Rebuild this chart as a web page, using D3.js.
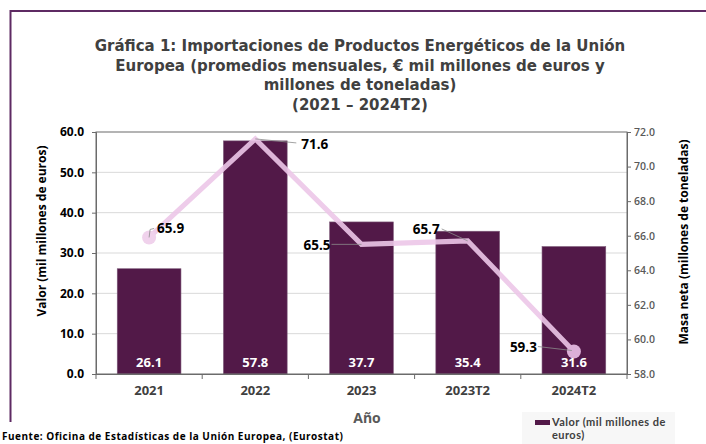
<!DOCTYPE html>
<html>
<head>
<meta charset="utf-8">
<script src="https://cdn.jsdelivr.net/npm/d3@7"></script>
<style>
  body { margin: 0; background: #fff; }
  text { font-family: "Open Sans", sans-serif; }
</style>
</head>
<body>
<script>
var years = ["2021", "2022", "2023", "2023T2", "2024T2"];
var valor = [26.1, 57.8, 37.7, 35.4, 31.6];
var masa = [65.9, 71.6, 65.5, 65.7, 59.3];
var leftTicks = [0, 10, 20, 30, 40, 50, 60];
var rightTicks = [58, 60, 62, 64, 66, 68, 70, 72];

var width = 706, height = 444;
var m = {left: 96, right: 627, top: 132, bottom: 374};

var svg = d3.select("body").append("svg")
    .attr("width", width)
    .attr("height", height);

// outer frame
svg.append("path")
    .attr("d", "M10.5,422 V11 H706")
    .attr("fill", "none")
    .attr("stroke", "#5e2a63")
    .attr("stroke-width", 2);

var title = ["Gráfica 1: Importaciones de Productos Energéticos de la Unión",
  "Europea (promedios mensuales, € mil millones de euros y",
  "millones de toneladas)",
  "(2021 – 2024T2)"];
svg.append("g").selectAll("text")
    .data(title)
  .enter().append("text")
    .attr("x", 360)
    .attr("y", function(d, i) { return 51 + i * 19.5; })
    .attr("text-anchor", "middle")
    .attr("font-size", 15)
    .attr("font-weight", 700)
    .attr("fill", "#404040")
    .style("font-family", "'DejaVu Sans', sans-serif")
    .text(function(d) { return d; });

var x = d3.scaleBand().domain(years).range([m.left, m.right]).paddingInner(0.4).paddingOuter(0.2);
var y = d3.scaleLinear().domain([0, 60]).range([m.bottom, m.top]);
var y2 = d3.scaleLinear().domain([58, 72]).range([m.bottom, m.top]);
var cx = function(d) { return x(d) + x.bandwidth() / 2; };

// gridlines
svg.append("g").selectAll("line")
    .data(leftTicks.slice(1, -1))
  .enter().append("line")
    .attr("x1", m.left).attr("x2", m.right)
    .attr("y1", function(d) { return y(d); })
    .attr("y2", function(d) { return y(d); })
    .attr("stroke", "#d9d9d9");

// bars
svg.append("g").selectAll("rect")
    .data(valor)
  .enter().append("rect")
    .attr("x", function(d, i) { return x(years[i]); })
    .attr("y", function(d) { return y(d); })
    .attr("width", x.bandwidth())
    .attr("height", function(d) { return y(0) - y(d); })
    .attr("fill", "#521948")
    .attr("stroke", "#7d5a79")
    .attr("stroke-width", 0.6);

// plot frame
svg.append("rect")
    .attr("x", m.left).attr("y", m.top)
    .attr("width", m.right - m.left).attr("height", m.bottom - m.top)
    .attr("fill", "none")
    .attr("stroke", "#6b6b6b");

// left axis
var gl = svg.append("g")
    .attr("transform", "translate(" + m.left + ",0)")
    .call(d3.axisLeft(y).tickValues(leftTicks).tickFormat(d3.format(".1f")).tickSize(4).tickPadding(8));
gl.select(".domain").attr("stroke", "#6b6b6b");
gl.selectAll(".tick line").attr("stroke", "#6b6b6b");
gl.selectAll("text").attr("font-size", 12).attr("font-weight", 700).attr("fill", "#000")
    .style("font-family", "'Open Sans', sans-serif");

// right axis
var gr = svg.append("g")
    .attr("transform", "translate(" + m.right + ",0)")
    .call(d3.axisRight(y2).tickValues(rightTicks).tickFormat(d3.format(".1f")).tickSize(4).tickPadding(3));
gr.select(".domain").attr("stroke", "#6b6b6b");
gr.selectAll(".tick line").attr("stroke", "#6b6b6b");
gr.selectAll("text").attr("font-size", 10.5).attr("font-weight", 600).attr("fill", "#595959")
    .style("font-family", "'Open Sans', sans-serif");

// x axis
var gx = svg.append("g")
    .attr("transform", "translate(0," + m.bottom + ")")
    .call(d3.axisBottom(x).tickSize(0).tickPadding(12));
gx.select(".domain").attr("stroke", "#6b6b6b");
gx.selectAll("text").attr("font-size", 13).attr("font-weight", 700).attr("fill", "#404040")
    .style("font-family", "'Open Sans', sans-serif");
svg.append("g").selectAll("line")
    .data(d3.range(years.length + 1))
  .enter().append("line")
    .attr("x1", function(i) { return m.left + i * x.step(); })
    .attr("x2", function(i) { return m.left + i * x.step(); })
    .attr("y1", m.bottom).attr("y2", m.bottom + 5)
    .attr("stroke", "#6b6b6b");

// line series
var line = d3.line()
    .x(function(d, i) { return cx(years[i]); })
    .y(function(d) { return y2(d); });
svg.append("path")
    .datum(masa)
    .attr("d", line)
    .attr("fill", "none")
    .attr("stroke", "#ecc6e8")
    .attr("stroke-opacity", 0.9)
    .attr("stroke-width", 5)
    .attr("stroke-linejoin", "miter");

svg.append("g").selectAll("circle")
    .data([0, masa.length - 1])
  .enter().append("circle")
    .attr("cx", function(i) { return cx(years[i]); })
    .attr("cy", function(i) { return y2(masa[i]); })
    .attr("r", 7)
    .attr("fill", function(i) { return i === 0 ? "#f0d2ec" : "#dcb0d8"; });

// bar value labels (on top of the line)
svg.append("g").selectAll("text")
    .data(valor)
  .enter().append("text")
    .attr("x", function(d, i) { return cx(years[i]); })
    .attr("y", 367)
    .attr("text-anchor", "middle")
    .attr("font-size", 13)
    .attr("font-weight", 700)
    .attr("fill", "#fff")
    .text(function(d) { return d.toFixed(1); });

// line labels with leaders (offsets from the point)
var lab = [
  {dx: 8, dy: -9, anchor: "start", lead: [[0, 0], [1, -8], [5, -9]]},
  {dx: 46, dy: 5, anchor: "start", lead: [[0, 0], [41, 4]]},
  {dx: -31, dy: 1, anchor: "end", lead: [[0, 0], [-30, 0]]},
  {dx: -28, dy: -12, anchor: "end", lead: [[0, 0], [-26, -12]]},
  {dx: -37, dy: -5, anchor: "end", lead: [[-2, -1], [-36, -5]]}
];
var gL = svg.append("g");
masa.forEach(function(d, i) {
  var px = cx(years[i]), py = y2(d), o = lab[i];
  gL.append("path")
      .attr("d", d3.line()(o.lead.map(function(p) { return [px + p[0], py + p[1]]; })))
      .attr("fill", "none")
      .attr("stroke", "#8c8c8c")
      .attr("stroke-width", 0.8);
  gL.append("text")
      .attr("x", px + o.dx)
      .attr("y", py + o.dy + 5)
      .attr("text-anchor", o.anchor)
      .attr("font-size", 13.5)
      .attr("font-weight", 700)
      .attr("fill", "#000")
      .text(d.toFixed(1));
});

// axis titles
svg.append("text")
    .attr("transform", "translate(46,231) rotate(-90)")
    .attr("text-anchor", "middle")
    .attr("font-size", 12)
    .attr("font-weight", 700)
    .attr("fill", "#000")
    .text("Valor  (mil millones de euros)");
svg.append("text")
    .attr("transform", "translate(688,242) rotate(-90)")
    .attr("text-anchor", "middle")
    .attr("font-size", 12)
    .attr("font-weight", 700)
    .attr("fill", "#000")
    .text("Masa neta (millones de toneladas)");
svg.append("text")
    .attr("x", 367).attr("y", 423)
    .attr("text-anchor", "middle")
    .attr("font-size", 14)
    .attr("font-weight", 700)
    .attr("fill", "#595959")
    .text("Año");

// legend
svg.append("rect")
    .attr("x", 522).attr("y", 412)
    .attr("width", 153).attr("height", 32)
    .attr("fill", "#f7f7f7");
svg.append("rect")
    .attr("x", 535).attr("y", 420)
    .attr("width", 15).attr("height", 5)
    .attr("fill", "#521948");
svg.append("g").selectAll("text")
    .data(["Valor (mil millones de", "euros)"])
  .enter().append("text")
    .attr("x", 552)
    .attr("y", function(d, i) { return 426 + i * 13; })
    .attr("font-size", 11)
    .attr("font-weight", 700)
    .attr("letter-spacing", 0.45)
    .attr("fill", "#404040")
    .style("font-family", "Lato, sans-serif")
    .text(function(d) { return d; });

svg.append("text")
    .attr("x", 2).attr("y", 440)
    .attr("font-size", 10)
    .attr("font-weight", 700)
    .attr("letter-spacing", 0.5)
    .attr("fill", "#000")
    .text("Fuente: Oficina de Estadísticas de la Unión Europea, (Eurostat)");
</script>
</body>
</html>
